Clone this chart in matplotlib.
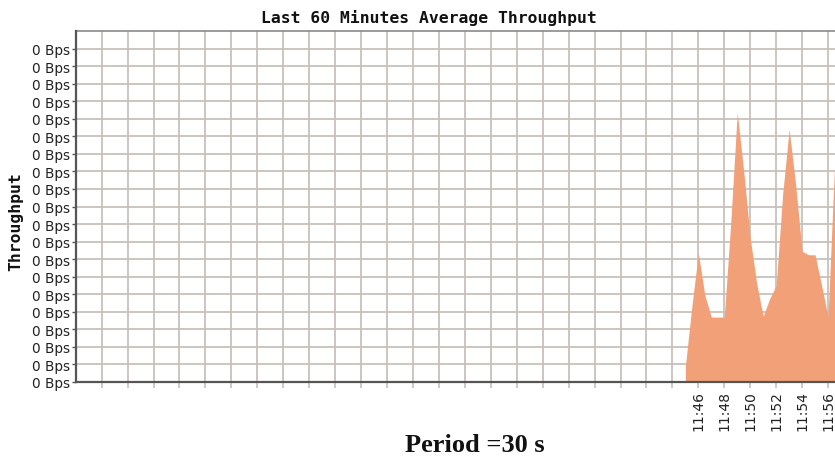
import matplotlib
matplotlib.use("Agg")
import matplotlib.pyplot as plt
import pandas as pd

# Sample times (30 s period) and average throughput in Bps
sample_start = "2024-01-01 11:45:00"
throughput_bps = [
    0.018, 0.086, 0.147, 0.099, 0.074, 0.074, 0.074, 0.182, 0.307,
    0.240, 0.164, 0.112, 0.075, 0.095, 0.110, 0.214, 0.288, 0.225,
    0.149, 0.145, 0.145, 0.110, 0.074, 0.246,
]
times = pd.date_range(sample_start, periods=len(throughput_bps), freq="30s")

# Window shown: last 60 minutes
window_start = pd.Timestamp("2024-01-01 10:58:00")
window_end = pd.Timestamp("2024-01-01 11:58:00")
tick_times = pd.date_range("2024-01-01 11:00:00", "2024-01-01 11:56:00", freq="2min")
tick_labels = ["" for _ in range(23)] + ["11:46", "11:48", "11:50", "11:52", "11:54", "11:56"]

y_ticks = [round(0.02 * i, 2) for i in range(20)]
y_tick_labels = ["0 Bps"] * len(y_ticks)

title = "Last 60 Minutes Average Throughput"
y_title = "Throughput"
caption = "Period =30 s"

grid_color = "#c9c0bb"
fill_color = "#f2a077"

fig = plt.figure(figsize=(8.35, 4.6), dpi=100)
fig.patch.set_facecolor("white")
ax = fig.add_axes([75.7 / 835, (460 - 383) / 460, (854 - 75.7) / 835, (383 - 32) / 460])

ax.fill_between(times, throughput_bps, 0, color=fill_color, linewidth=0, zorder=3)

ax.set_xlim(window_start, window_end)
ax.set_ylim(0, 0.4)
ax.set_xticks(tick_times)
ax.set_xticklabels(tick_labels, rotation=90, fontsize=10, color="#222222",
                   family="DejaVu Sans")
ax.set_yticks(y_ticks)
ax.set_yticklabels(y_tick_labels, fontsize=9.8, color="#222222", family="DejaVu Sans")

ax.grid(True, color=grid_color, linewidth=1.3, zorder=1)
ax.set_axisbelow(True)
ax.tick_params(axis="x", length=4, width=1.2, color=grid_color, pad=2)
ax.tick_params(axis="y", length=3, width=1.0, color="#555555", pad=1)

for side in ("left", "bottom"):
    ax.spines[side].set_color("#555555")
    ax.spines[side].set_linewidth(1.6)
    ax.spines[side].set_zorder(4)
ax.spines["top"].set_color("#8a8a8a")
ax.spines["top"].set_linewidth(1.2)
ax.spines["right"].set_visible(False)

fig.text(429 / 835, 1 - 18 / 460, title, ha="center", va="center",
         family="DejaVu Sans Mono", fontweight="bold", fontsize=11.8, color="#111111")
fig.text(16 / 835, 1 - 222 / 460, y_title, ha="center", va="center", rotation=90,
         family="DejaVu Sans Mono", fontweight="bold", fontsize=11.8, color="#111111")
fig.text(475 / 835, 1 - 446 / 460, caption, ha="center", va="center",
         family="Liberation Serif", fontweight="bold", fontsize=19, color="#111111")

fig.savefig("out.png", dpi=100, facecolor="white")
